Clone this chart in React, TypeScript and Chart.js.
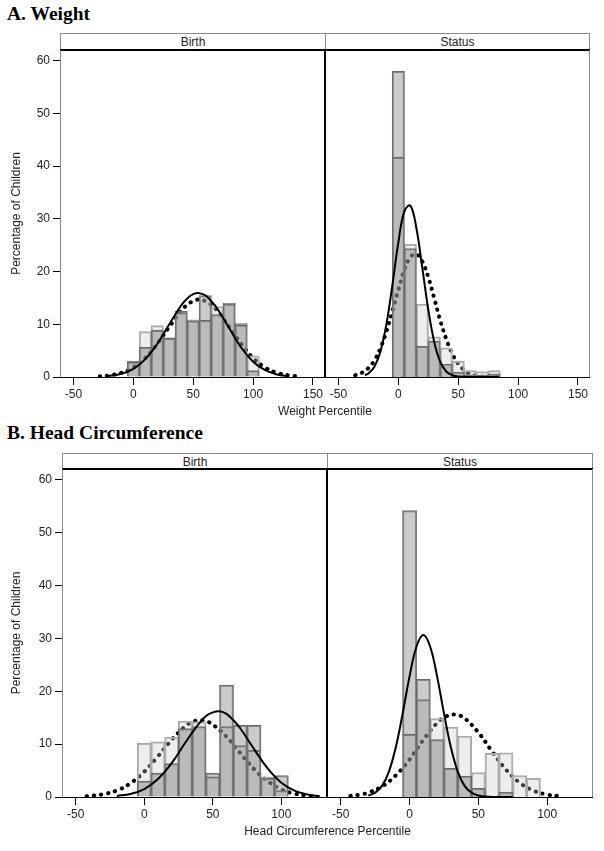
import React, { useEffect, useRef } from "react";
import { Chart, registerables } from "chart.js";

Chart.register(...registerables);

const FONT = "'Liberation Sans', Arial, Helvetica, sans-serif";
Chart.defaults.font.family = FONT;

// ---------------- Data ----------------
const yTicks = [0, 10, 20, 30, 40, 50, 60];
const xTicksWeight = [-50, 0, 50, 100, 150];
const xTicksHead = [-50, 0, 50, 100];

// A. Weight — Birth
const weightBirthBins = [0, 10, 20, 30, 40, 50, 60, 70, 80, 90, 100];
const weightBirthSolidGroup = [3.0, 5.6, 8.8, 7.4, 12.4, 10.6, 15.4, 11.8, 14.0, 10.1, 1.2];
const weightBirthDottedGroup = [2.8, 8.6, 9.7, 7.3, 12.2, 10.8, 10.7, 13.3, 13.8, 9.8, 4.0];
const weightBirthSolidCurveX = [-22, -10, 0, 10, 20, 30, 40, 45, 50, 55, 60, 65, 70, 80, 90, 100, 110, 120, 130];
const weightBirthSolidCurveY = [0.16, 0.6, 1.55, 3.4, 6.3, 10.0, 13.6, 14.9, 15.7, 15.9, 15.5, 14.4, 13.0, 9.3, 5.6, 2.9, 1.3, 0.49, 0.16];
const weightBirthDottedCurveX = [-28, -20, -10, 0, 10, 20, 30, 40, 45, 50, 55, 60, 65, 70, 80, 90, 100, 110, 120, 130, 135];
const weightBirthDottedCurveY = [0.13, 0.31, 0.8, 1.8, 3.6, 6.3, 9.5, 12.6, 13.7, 14.4, 14.7, 14.4, 13.7, 12.6, 9.5, 6.3, 3.6, 1.8, 0.8, 0.31, 0.18];

// A. Weight — Status
const weightStatusBins = [0, 10, 20, 30, 40, 50, 60, 70, 80];
const weightStatusSolidGroup = [57.9, 24.3, 5.8, 6.8, 2.4, 0.9, 0.4, 0.3, 0.5];
const weightStatusDottedGroup = [41.6, 25.1, 13.8, 7.6, 5.5, 3.0, 1.2, 1.0, 1.2];
const weightStatusSolidCurveX = [-28, -25, -20, -15, -10, -5, 0, 5, 10, 15, 20, 25, 30, 35, 40, 45, 50, 60, 70, 84];
const weightStatusSolidCurveY = [0.33, 0.67, 1.95, 4.8, 10.0, 17.4, 25.5, 31.4, 32.5, 28.3, 20.7, 12.8, 6.6, 2.85, 1.05, 0.33, 0.08, 0.01, 0, 0];
const weightStatusDottedCurveX = [-36, -30, -25, -20, -15, -10, -5, 0, 5, 10, 15, 20, 25, 30, 35, 40, 45, 50, 55, 60, 65, 70, 84];
const weightStatusDottedCurveY = [0.33, 0.86, 1.7, 3.15, 5.45, 8.6, 12.5, 16.5, 20.3, 22.7, 23.3, 21.9, 18.9, 14.9, 10.7, 7.2, 4.4, 2.5, 1.3, 0.6, 0.26, 0.1, 0];

// B. Head Circumference — Birth
const headBirthBins = [0, 10, 20, 30, 40, 50, 60, 70, 80, 90, 100];
const headBirthSolidGroup = [3.0, 4.5, 6.3, 12.9, 13.3, 4.5, 21.1, 13.5, 13.5, 3.5, 4.0];
const headBirthDottedGroup = [10.1, 10.4, 11.3, 14.3, 14.2, 3.8, 13.3, 9.7, 8.8, 3.8, 1.2];
const headBirthSolidCurveX = [-20, -10, 0, 10, 20, 30, 40, 45, 50, 55, 60, 65, 70, 80, 90, 100, 110, 120, 128];
const headBirthSolidCurveY = [0.19, 0.58, 1.5, 3.4, 6.4, 10.3, 13.9, 15.3, 16.0, 16.2, 15.7, 14.5, 13.0, 9.1, 5.4, 2.7, 1.15, 0.42, 0.16];
const headBirthDottedCurveX = [-42, -30, -20, -10, 0, 10, 20, 30, 35, 40, 45, 50, 60, 70, 80, 90, 100, 110, 120, 126];
const headBirthDottedCurveY = [0.15, 0.52, 1.24, 2.6, 4.8, 7.7, 10.8, 13.4, 14.2, 14.5, 14.35, 13.7, 11.4, 8.3, 5.3, 3.0, 1.45, 0.62, 0.24, 0.12];

// B. Head Circumference — Status
const headStatusBins = [0, 10, 20, 30, 40, 50, 60, 70, 80, 90];
const headStatusSolidGroup = [54.1, 22.2, 10.8, 5.4, 3.9, 1.6, 0, 0.9, 0, 0];
const headStatusDottedGroup = [11.8, 18.4, 14.8, 13.2, 11.5, 4.6, 8.2, 8.3, 4.0, 3.5];
const headStatusSolidCurveX = [-30, -25, -20, -15, -10, -5, 0, 5, 10, 15, 20, 25, 30, 35, 40, 45, 50, 55, 60, 75];
const headStatusSolidCurveY = [0.27, 0.82, 2.1, 4.8, 9.4, 15.8, 22.8, 28.4, 30.6, 28.4, 22.8, 15.8, 9.4, 4.8, 2.1, 0.82, 0.27, 0.08, 0.02, 0];
const headStatusDottedCurveX = [-43, -35, -30, -20, -10, 0, 10, 20, 25, 30, 35, 40, 50, 60, 70, 80, 90, 100, 108];
const headStatusDottedCurveY = [0.21, 0.5, 0.83, 2.0, 4.1, 7.1, 10.8, 14.0, 15.0, 15.55, 15.5, 14.9, 12.2, 8.6, 5.2, 2.7, 1.2, 0.45, 0.19];

// ---------------- Layout constants ----------------
const PAD_TOP = 12;
const X_AXIS_H = 30;
const Y_MAX = 62;

type PanelData = {
  bins: number[];
  solidBars: number[];
  dottedBars: number[];
  solidX: number[];
  solidY: number[];
  dottedX: number[];
  dottedY: number[];
};

type PanelProps = PanelData & {
  left: number;
  top: number;
  width: number;
  height: number;
  yAxisWidth: number;
  showY: boolean;
  xMin: number;
  xMax: number;
  xTicks: number[];
};

function Panel(p: PanelProps) {
  const ref = useRef<HTMLCanvasElement>(null);
  useEffect(() => {
    if (!ref.current) return;
    const overlap: any[] = [];
    const solidOnly: any[] = [];
    const dottedOnly: any[] = [];
    p.bins.forEach((b, i) => {
      const s = p.solidBars[i];
      const d = p.dottedBars[i];
      const lo = Math.min(s, d);
      if (lo > 0) overlap.push({ x: b, y: [0, lo] });
      if (s > d) solidOnly.push({ x: b, y: [d, s] });
      else if (d > s) dottedOnly.push({ x: b, y: [s, d] });
    });
    const solidPts = p.solidX.map((x, i) => ({ x, y: p.solidY[i] }));
    const dottedPts = p.dottedX.map((x, i) => ({ x, y: p.dottedY[i] }));
    const barCommon = {
      type: "bar",
      borderWidth: 1,
      inflateAmount: 0.5,
      grouped: false,
      barPercentage: 1,
      categoryPercentage: 1,
    };
    const tickFont = { family: FONT, size: 12 };
    const chart = new Chart(ref.current, {
      type: "bar",
      data: {
        datasets: [
          {
            type: "line",
            data: solidPts,
            borderColor: "#000",
            borderWidth: 2,
            pointRadius: 0,
            pointHoverRadius: 0,
            tension: 0.4,
            fill: false,
            order: 1,
          },
          {
            ...barCommon,
            data: overlap,
            backgroundColor: "rgba(140,140,140,0.6)",
            borderColor: "#6a6a6a",
            order: 2,
          },
          {
            ...barCommon,
            data: solidOnly,
            backgroundColor: "rgba(160,160,160,0.55)",
            borderColor: "#6a6a6a",
            order: 3,
          },
          {
            ...barCommon,
            data: dottedOnly,
            backgroundColor: "rgba(200,200,200,0.3)",
            borderColor: "#a8a8a8",
            order: 4,
          },
          {
            type: "line",
            data: dottedPts,
            borderColor: "#000",
            borderWidth: 4,
            borderDash: [0.3, 6.9],
            borderCapStyle: "round",
            pointRadius: 0,
            pointHoverRadius: 0,
            tension: 0.4,
            fill: false,
            order: 5,
          },
        ] as any,
      },
      options: {
        animation: false,
        responsive: false,
        maintainAspectRatio: false,
        events: [],
        layout: { padding: { top: PAD_TOP, left: 0, right: 0, bottom: 0 } },
        plugins: { legend: { display: false }, tooltip: { enabled: false } },
        scales: {
          x: {
            type: "linear",
            min: p.xMin,
            max: p.xMax,
            offset: false,
            bounds: "data",
            grid: {
              display: true,
              offset: false,
              drawOnChartArea: false,
              drawTicks: true,
              tickLength: 8,
              color: "#000",
              lineWidth: 1,
            },
            border: { display: true, color: "#000", width: 1 },
            ticks: { autoSkip: false, maxRotation: 0, padding: 2, color: "#222", font: tickFont },
            afterBuildTicks: (s: any) => {
              s.ticks = p.xTicks.map((v) => ({ value: v }));
            },
            afterFit: (s: any) => {
              s.height = X_AXIS_H;
            },
          },
          y: {
            type: "linear",
            display: p.showY,
            min: 0,
            max: Y_MAX,
            bounds: "data",
            stacked: false,
            grid: {
              display: true,
              drawOnChartArea: false,
              drawTicks: true,
              tickLength: 7,
              color: "#000",
              lineWidth: 1,
            },
            border: { display: false },
            ticks: { padding: 3, color: "#222", font: tickFont },
            title: {
              display: true,
              text: "Percentage of Children",
              color: "#222",
              font: tickFont,
              padding: { top: 9.5, bottom: 0 },
            },
            afterBuildTicks: (s: any) => {
              s.ticks = yTicks.map((v) => ({ value: v }));
            },
            afterFit: (s: any) => {
              s.width = p.yAxisWidth;
            },
          },
        },
      } as any,
    });
    return () => chart.destroy();
  }, []);
  return (
    <canvas
      ref={ref}
      width={p.width}
      height={p.height}
      style={{ position: "absolute", left: p.left, top: p.top, width: p.width, height: p.height }}
    />
  );
}

type SectionProps = {
  title: string;
  titleTop: number;
  headerTop: number;
  plotTop: number;
  plotBottom: number;
  plotLeft: number;
  plotMid: number;
  plotRight: number;
  xTitle: string;
  xTitleCenterY: number;
  xMin: number;
  xMax: number;
  xTicks: number[];
  birth: PanelData;
  status: PanelData;
};

function Section(s: SectionProps) {
  const plotH = s.plotBottom - s.plotTop;
  const canvasTop = s.plotTop - PAD_TOP;
  const canvasH = PAD_TOP + plotH + X_AXIS_H;
  const headerH = s.plotTop - s.headerTop;
  const abs = (st: any) => ({ position: "absolute" as const, pointerEvents: "none" as const, ...st });
  const headerStyle = (left: number, width: number) =>
    abs({
      left,
      top: s.headerTop,
      width,
      height: headerH,
      boxSizing: "border-box",
      border: "1px solid #8a8a8a",
      borderBottom: "none",
      textAlign: "center",
      font: `12px ${FONT}`,
      lineHeight: `${headerH}px`,
      color: "#222",
      background: "#fff",
    });
  return (
    <>
      <div
        style={abs({
          left: 7,
          top: s.titleTop,
          font: "bold 19.5px 'Liberation Serif', 'Times New Roman', serif",
          lineHeight: "20px",
          color: "#000",
          whiteSpace: "nowrap",
        })}
      >
        {s.title}
      </div>
      <Panel
        {...s.birth}
        left={0}
        top={canvasTop}
        width={s.plotMid}
        height={canvasH}
        yAxisWidth={s.plotLeft}
        showY={true}
        xMin={s.xMin}
        xMax={s.xMax}
        xTicks={s.xTicks}
      />
      <Panel
        {...s.status}
        left={s.plotMid}
        top={canvasTop}
        width={s.plotRight - s.plotMid}
        height={canvasH}
        yAxisWidth={0}
        showY={false}
        xMin={s.xMin}
        xMax={s.xMax}
        xTicks={s.xTicks}
      />
      <div style={headerStyle(s.plotLeft, s.plotMid - s.plotLeft + 1)}>Birth</div>
      <div style={headerStyle(s.plotMid, s.plotRight - s.plotMid)}>Status</div>
      <div style={abs({ left: s.plotLeft, top: s.plotTop - 1, width: s.plotRight - s.plotLeft, height: 2, background: "#000" })} />
      <div style={abs({ left: s.plotMid - 1, top: s.plotTop, width: 2, height: plotH, background: "#000" })} />
      <div style={abs({ left: s.plotLeft, top: s.plotTop, width: 1, height: plotH, background: "#8a8a8a" })} />
      <div style={abs({ left: s.plotRight - 1, top: s.plotTop, width: 1, height: plotH, background: "#8a8a8a" })} />
      <div
        style={abs({
          left: s.plotLeft,
          width: s.plotRight - s.plotLeft,
          top: s.xTitleCenterY - 8,
          height: 16,
          lineHeight: "16px",
          textAlign: "center",
          font: `12px ${FONT}`,
          color: "#222",
        })}
      >
        {s.xTitle}
      </div>
    </>
  );
}

export default function App() {
  return (
    <div
      style={{
        position: "absolute",
        left: 0,
        top: 0,
        width: 604,
        height: 851,
        overflow: "hidden",
        background: "#fff",
      }}
    >
      <Section
        title="A. Weight"
        titleTop={4}
        headerTop={33}
        plotTop={50}
        plotBottom={377}
        plotLeft={60}
        plotMid={325}
        plotRight={590}
        xTitle="Weight Percentile"
        xTitleCenterY={412}
        xMin={-61.25}
        xMax={159.58}
        xTicks={xTicksWeight}
        birth={{
          bins: weightBirthBins,
          solidBars: weightBirthSolidGroup,
          dottedBars: weightBirthDottedGroup,
          solidX: weightBirthSolidCurveX,
          solidY: weightBirthSolidCurveY,
          dottedX: weightBirthDottedCurveX,
          dottedY: weightBirthDottedCurveY,
        }}
        status={{
          bins: weightStatusBins,
          solidBars: weightStatusSolidGroup,
          dottedBars: weightStatusDottedGroup,
          solidX: weightStatusSolidCurveX,
          solidY: weightStatusSolidCurveY,
          dottedX: weightStatusDottedCurveX,
          dottedY: weightStatusDottedCurveY,
        }}
      />
      <Section
        title="B. Head Circumference"
        titleTop={423}
        headerTop={453}
        plotTop={469}
        plotBottom={797}
        plotLeft={62}
        plotMid={327}
        plotRight={593}
        xTitle="Head Circumference Percentile"
        xTitleCenterY={832}
        xMin={-60}
        xMax={133.3}
        xTicks={xTicksHead}
        birth={{
          bins: headBirthBins,
          solidBars: headBirthSolidGroup,
          dottedBars: headBirthDottedGroup,
          solidX: headBirthSolidCurveX,
          solidY: headBirthSolidCurveY,
          dottedX: headBirthDottedCurveX,
          dottedY: headBirthDottedCurveY,
        }}
        status={{
          bins: headStatusBins,
          solidBars: headStatusSolidGroup,
          dottedBars: headStatusDottedGroup,
          solidX: headStatusSolidCurveX,
          solidY: headStatusSolidCurveY,
          dottedX: headStatusDottedCurveX,
          dottedY: headStatusDottedCurveY,
        }}
      />
    </div>
  );
}
